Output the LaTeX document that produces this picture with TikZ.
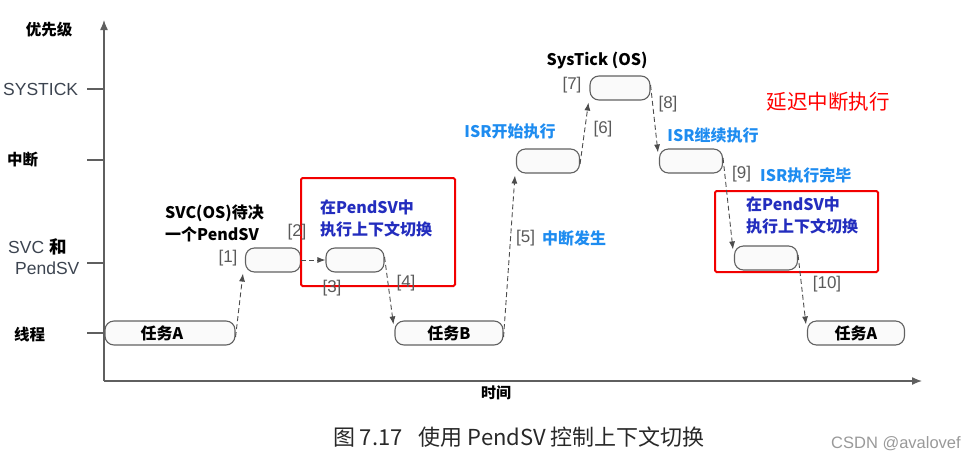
\documentclass[tikz,border=0pt]{standalone}
\usepackage{fontspec}
\setmainfont{Noto Sans CJK SC}
\newfontfamily\lib{Liberation Sans}
\usetikzlibrary{arrows.meta}
\definecolor{lblue}{RGB}{30,140,240}
\definecolor{dblue}{RGB}{35,45,190}
\definecolor{lblgray}{RGB}{90,90,90}
\definecolor{axisgray}{RGB}{95,95,95}
\definecolor{ticklbl}{RGB}{60,68,80}
\definecolor{capgray}{RGB}{40,40,40}
\begin{document}
\begin{tikzpicture}[x=1pt,y=-1pt,
  bar/.style={draw=black!62, fill=black!2, rounded corners=9, line width=1.1,
    minimum height=24, inner sep=0, font=\bfseries\fontsize{16}{18}\selectfont},
  dasharrow/.style={draw=black!70, dash pattern=on 5 off 3, line width=0.9,
    -{Latex[length=8,width=6]}},
  num/.style={text=lblgray, font=\lib\fontsize{17}{20}\selectfont, inner sep=0},
  bluebold/.style={text=lblue, font=\bfseries\fontsize{16}{19}\selectfont, inner sep=0},
  dbluebold/.style={text=dblue, font=\bfseries\fontsize{16}{22}\selectfont, inner sep=0, align=left},
  blackbold/.style={text=black, font=\bfseries\fontsize{16}{22}\selectfont, inner sep=0, align=left},
  axisline/.style={draw=axisgray, line width=1.3, -{Latex[length=10,width=8]}},
  tick/.style={draw=axisgray, line width=1.1},
  redframe/.style={draw=red!95!black, line width=2, rounded corners=1.5},
]
\useasboundingbox (0,0) rectangle (972,464);

% axes
\coordinate (origin) at (104,381);
\coordinate (ytop) at (104,20);
\coordinate (xend) at (922,381);
\draw[axisline] (origin) -- (ytop);
\draw[axisline] (origin) -- (xend);
\node[text=black, font=\bfseries\fontsize{15.5}{18}\selectfont] (prio) at (49,30) {优先级};
\node[text=black, font=\bfseries\fontsize{15}{18}\selectfont] (time) at (496,393) {时间};

% ticks and labels
\draw[tick] (87,89) -- (104,89);
\draw[tick] (87,160) -- (104,160);
\draw[tick] (87,263) -- (104,263);
\draw[tick] (87,333) -- (104,333);
\node[text=ticklbl, font=\lib\fontsize{17.5}{20}\selectfont, anchor=west, inner sep=0] (lsys) at (3,89) {SYSTICK};
\node[text=black, font=\bfseries\fontsize{15.5}{18}\selectfont, anchor=west, inner sep=0] (lint) at (7,160) {中断};
\node[text=ticklbl, font=\lib\fontsize{17.5}{21}\selectfont, anchor=west, inner sep=0, align=left] (lsvc) at (8,257) {SVC {\rmfamily\bfseries\color{black}和}\\\hspace*{7pt}PendSV};
\node[text=black, font=\bfseries\fontsize{15.5}{18}\selectfont, anchor=west, inner sep=0] (lthr) at (14,335) {线程};

% bars
\node[bar, minimum width=130] (taskA) at (170,333) {\hspace*{-16pt}任务A};
\node[bar, minimum width=55] (svc) at (273,260) {};
\node[bar, minimum width=58] (pend) at (355,260) {};
\node[bar, minimum width=108] (taskB) at (449,333) {任务B};
\node[bar, minimum width=63] (isr) at (548,161) {};
\node[bar, minimum width=60] (systick) at (620,88) {};
\node[bar, minimum width=63] (isrc) at (691,161) {};
\node[bar, minimum width=63] (pend2) at (766,258) {};
\node[bar, minimum width=97] (taskA2) at (856,333) {任务A};

% red frames
\node[redframe, minimum width=154, minimum height=108, inner sep=0] (frame1) at (378,232) {};
\node[redframe, minimum width=163, minimum height=81, inner sep=0] (frame2) at (796.5,231.5) {};

% arrows
\draw[dasharrow] ([yshift=-4]taskA.east) -- ([xshift=-2,yshift=-1]svc.south west);
\draw[dasharrow] (svc.east) -- (pend.west);
\draw[dasharrow] ([yshift=3]pend.east) -- ([xshift=-1,yshift=-4]taskB.north west);
\draw[dasharrow] ([yshift=-4]taskB.east) -- ([xshift=-1,yshift=-2]isr.south west);
\draw[dasharrow] ([yshift=-3]isr.east) -- ([xshift=-1,yshift=-2]systick.south west);
\draw[dasharrow] ([yshift=3]systick.east) -- ([xshift=-1,yshift=-4]isrc.north west);
\draw[dasharrow] ([yshift=3]isrc.east) -- ([xshift=-1,yshift=-4]pend2.north west);
\draw[dasharrow] ([yshift=3]pend2.east) -- ([xshift=-1,yshift=-4]taskA2.north west);

% step numbers
\node[num] (n1) at (228,258) {[1]};
\node[num] (n2) at (297,232) {[2]};
\node[num] (n3) at (332,288) {[3]};
\node[num] (n4) at (406,283) {[4]};
\node[num, anchor=west] (n5) at (516,238) {[5]};
\node[num] (n6) at (603,129) {[6]};
\node[num] (n7) at (572,85) {[7]};
\node[num] (n8) at (668,104) {[8]};
\node[num, anchor=west] (n9) at (732,174) {[9]};
\node[num] (n10) at (827,284) {[10]};

% texts
\node[bluebold, anchor=west] (t5) at (542,238) {中断发生};
\node[bluebold, anchor=west] (t9) at (760,175) {ISR执行完毕};
\node[bluebold] (tisr) at (510,131) {ISR开始执行};
\node[bluebold] (tisrc) at (713,135) {ISR继续执行};
\node[blackbold] (tsys) at (597,61) {SysTick (OS)};
\node[blackbold, anchor=north west] (tsvc) at (165,205) {SVC(OS)待决\\一个PendSV};
\node[dbluebold, anchor=north west] (tf1) at (320,200) {在PendSV中\\执行上下文切换};
\node[dbluebold, anchor=north west] (tf2) at (746,197) {在PendSV中\\执行上下文切换};
\node[text=red, font=\fontsize{20.5}{24}\selectfont, inner sep=0] (delay) at (828,102) {延迟中断执行};

% caption
\node[text=capgray, font=\fontsize{22}{25}\selectfont, inner sep=0] (cap) at (519,437) {图 7.17\hspace{16pt}使用 PendSV 控制上下文切换};
\node[text=black!40, font=\lib\fontsize{16.5}{19}\selectfont, inner sep=0] (csdn) at (896,444) {CSDN @avalovef};
\end{tikzpicture}
\end{document}
